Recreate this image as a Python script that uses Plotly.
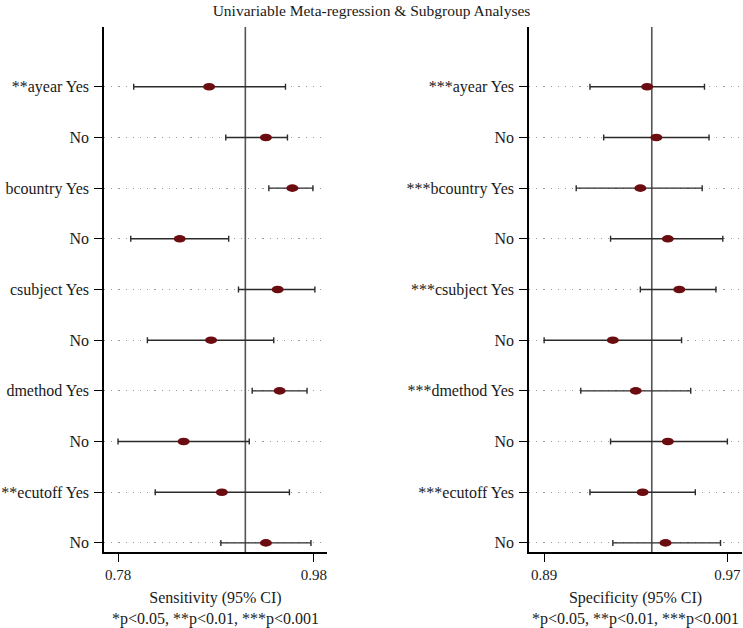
import plotly.graph_objects as go

# row labels, top to bottom
sens_labels = ["**ayear Yes", "No", "bcountry Yes", "No", "csubject Yes", "No",
               "dmethod Yes", "No", "**ecutoff Yes", "No"]
spec_labels = ["***ayear Yes", "No", "***bcountry Yes", "No", "***csubject Yes", "No",
               "***dmethod Yes", "No", "***ecutoff Yes", "No"]

# sensitivity (95% CI)
sens_est = [0.873, 0.931, 0.958, 0.843, 0.943, 0.875, 0.945, 0.847, 0.886, 0.931]
sens_lo = [0.796, 0.890, 0.934, 0.793, 0.903, 0.810, 0.917, 0.780, 0.818, 0.885]
sens_hi = [0.951, 0.953, 0.979, 0.893, 0.981, 0.939, 0.973, 0.914, 0.955, 0.977]
sens_pooled = 0.91

# specificity (95% CI)
spec_est = [0.935, 0.939, 0.932, 0.944, 0.949, 0.920, 0.930, 0.944, 0.933, 0.943]
spec_lo = [0.910, 0.916, 0.904, 0.919, 0.932, 0.890, 0.906, 0.919, 0.910, 0.920]
spec_hi = [0.960, 0.962, 0.959, 0.968, 0.965, 0.950, 0.954, 0.970, 0.956, 0.967]
spec_pooled = 0.937

sens_ticks = [0.78, 0.98]
spec_ticks = [0.89, 0.97]

rows = list(range(len(sens_labels), 0, -1))
serif = "Liberation Serif"
dot_color = "#6b0d10"
bar_color = "#2b2b2b"

fig = go.Figure()

panels = [
    (sens_est, sens_lo, sens_hi, sens_pooled, "x", "y"),
    (spec_est, spec_lo, spec_hi, spec_pooled, "x2", "y2"),
]
for est, lo, hi, pooled, xa, ya in panels:
    fig.add_trace(go.Scatter(
        x=est, y=rows, xaxis=xa, yaxis=ya, mode="markers",
        marker=dict(size=1, color=dot_color, opacity=0),
        error_x=dict(type="data", symmetric=False,
                     array=[h - e for h, e in zip(hi, est)],
                     arrayminus=[e - l for e, l in zip(est, lo)],
                     color=bar_color, thickness=1.4, width=3),
        showlegend=False, hoverinfo="x+y",
    ))
    # pooled estimate line
    fig.add_shape(type="line", xref=xa, yref=ya + " domain", x0=pooled, x1=pooled,
                  y0=0, y1=1, line=dict(color="#555555", width=1.6), layer="below")
    # elliptical point markers
    for e, r in zip(est, rows):
        fig.add_shape(type="circle", xref=xa, yref=ya,
                      xsizemode="pixel", xanchor=e, x0=-6, x1=6,
                      ysizemode="pixel", yanchor=r, y0=-3.8, y1=3.8,
                      fillcolor=dot_color, line=dict(width=0))

axis_common = dict(
    showline=True, linecolor="black", linewidth=1.5, ticks="outside",
    ticklen=8, tickcolor="black", tickwidth=1.2, zeroline=False,
    tickfont=dict(family=serif, size=16, color="#1a1a1a"),
)
ycommon = dict(axis_common, range=[0.82, 11.18], tickvals=rows, showgrid=True,
               gridcolor="#9a9a9a", gridwidth=1.2, griddash="1.2px,6px",
               ticklabelstandoff=2)
xtick_font = dict(family=serif, size=15, color="#1a1a1a")

fig.update_layout(
    width=743, height=628,
    margin=dict(l=0, r=0, t=27, b=76),
    paper_bgcolor="white", plot_bgcolor="white",
    font=dict(family=serif, size=16, color="#1a1a1a"),
    title=dict(text="Univariable Meta-regression & Subgroup Analyses",
               x=0.5, xanchor="center", y=0.992, yanchor="top",
               font=dict(family=serif, size=15.5, color="#1a1a1a")),
    xaxis=dict(axis_common, domain=[0.140, 0.440], range=[0.7657, 0.9933],
               tickvals=sens_ticks, ticktext=[f"{v:.2f}" for v in sens_ticks],
               showgrid=False, tickfont=xtick_font,
               title=dict(text="Sensitivity (95% CI)<br>*p<0.05, **p<0.01, ***p<0.001",
                          font=dict(family=serif, size=16), standoff=12)),
    yaxis=dict(ycommon, anchor="x", ticktext=sens_labels),
    xaxis2=dict(axis_common, domain=[0.712, 0.9987], range=[0.8834, 0.9764],
                tickvals=spec_ticks, ticktext=[f"{v:.2f}" for v in spec_ticks],
                showgrid=False, anchor="y2", tickfont=xtick_font,
                title=dict(text="Specificity (95% CI)<br>*p<0.05, **p<0.01, ***p<0.001",
                           font=dict(family=serif, size=16), standoff=12)),
    yaxis2=dict(ycommon, anchor="x2", ticktext=spec_labels),
)

# the page's default body margin would push the figure off-canvas
fig.write_html("out.html", config={"displayModeBar": False},
               post_script="document.body.style.margin='0';")
